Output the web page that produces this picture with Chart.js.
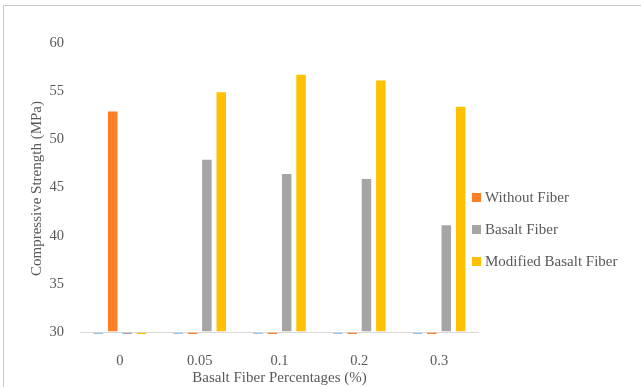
<!DOCTYPE html>
<html>
<head>
<meta charset="utf-8">
<script src="https://cdn.jsdelivr.net/npm/chart.js@4.4.1/dist/chart.umd.min.js"></script>
<style>
    body { margin: 0; background: #fff; }
    .wrap { position: relative; width: 641px; height: 387px; overflow: hidden; }
    .frame { position: absolute; left: 3px; top: 5px; right: -5px; bottom: -5px; border-top: 1px solid #c8c8c8; border-left: 1px solid #c8c8c8; }
    canvas { position: absolute; left: 0; top: 0; }
    .legend { position: absolute; left: 472px; top: 186px; font: 15px "Liberation Serif", serif; color: #595959; }
    .legend div { height: 32px; line-height: 22px; white-space: nowrap; }
    .legend span { display: inline-block; width: 9px; height: 9px; margin-right: 4px; }
</style>
</head>
<body>
<div class="wrap">
    <div class="frame"></div>
    <canvas id="chart" width="641" height="387"></canvas>
    <div class="legend" id="legend"></div>
</div>
<script>
const categories = ['0', '0.05', '0.1', '0.2', '0.3'];
const percentValues = [0, 0.05, 0.1, 0.2, 0.3];   // plotted by Excel, far below the 30 axis
const withoutFiber = [53, 0, 0, 0, 0];
const basaltFiber = [0, 48, 46.5, 46, 41.2];
const modifiedBasaltFiber = [0, 55, 56.8, 56.2, 53.5];
const yTicks = [30, 35, 40, 45, 50, 55, 60];

const fontFamily = '"Liberation Serif", serif';
const textColor = '#595959';

function series(label, data, color) {
    return {
        label: label,
        data: data,
        backgroundColor: color,
        borderColor: 'rgba(255,255,255,0.5)',
        borderWidth: 1,
        base: yTicks[0],
        clip: 0,
        categoryPercentage: 0.72,
        barPercentage: 0.8
    };
}

const datasets = [
    series('Basalt Fiber Percentages', percentValues, '#9dc3e6'),
    series('Without Fiber', withoutFiber, '#ff7f27'),
    series('Basalt Fiber', basaltFiber, '#a5a5a5'),
    series('Modified Basalt Fiber', modifiedBasaltFiber, '#ffc000')
];

new Chart(document.getElementById('chart'), {
    type: 'bar',
    data: { labels: categories, datasets: datasets },
    options: {
        responsive: false,
        animation: false,
        layout: { padding: { left: 20, top: 43, right: 162, bottom: 0 } },
        plugins: { legend: { display: false }, tooltip: { enabled: false } },
        scales: {
            x: {
                grid: { display: false },
                border: { display: false },
                ticks: { color: textColor, font: { family: fontFamily, size: 14.5 }, padding: 10 },
                title: { display: true, text: 'Basalt Fiber Percentages (%)', color: textColor, font: { family: fontFamily, size: 15 }, padding: { top: 0, bottom: 0 } },
                afterFit: s => { s.height = 53; }
            },
            y: {
                min: 29.8,
                max: yTicks[yTicks.length - 1],
                ticks: { stepSize: 5, color: textColor, font: { family: fontFamily, size: 14.5 }, padding: 16 },
                afterBuildTicks: s => { s.ticks = yTicks.map(v => ({ value: v })); },
                grid: {
                    drawTicks: false,
                    color: c => (c.tick && c.tick.value === yTicks[0]) ? '#d9d9d9' : 'rgba(0,0,0,0)'
                },
                border: { display: false },
                title: { display: true, text: 'Compressive Strength (MPa)', color: textColor, font: { family: fontFamily, size: 15 }, padding: { top: 8, bottom: 0 } },
                afterFit: s => { s.width = 60; }
            }
        }
    }
});

// legend like the Excel one, first series is left out
const legend = document.getElementById('legend');
datasets.slice(1).forEach(ds => {
    const row = document.createElement('div');
    row.innerHTML = '<span style="background:' + ds.backgroundColor + '"></span>' + ds.label;
    legend.appendChild(row);
});
</script>
</body>
</html>
